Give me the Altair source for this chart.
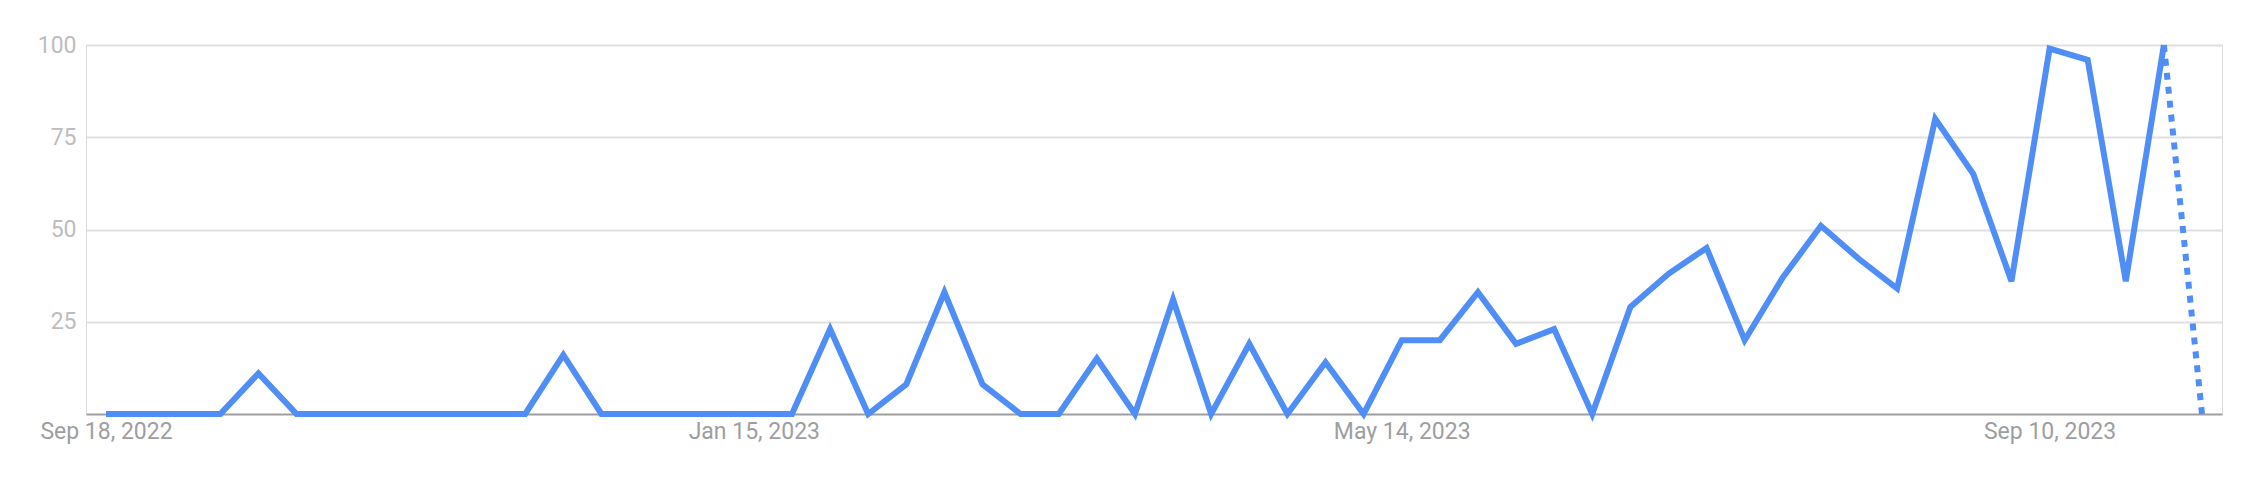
import altair as alt
import pandas as pd

# Weekly interest values (Sep 18, 2022 onward, 56 weeks)
start_date = "2022-09-18"
values = [0, 0, 0, 0, 11, 0, 0, 0, 0, 0, 0, 0,
          16, 0, 0, 0, 0, 0, 0, 23, 0, 8, 33, 8,
          0, 0, 15, 0, 31, 0, 19, 0, 14, 0, 20, 20,
          33, 19, 23, 0, 29, 38, 45, 20, 37, 51, 42, 34,
          80, 65, 36, 99, 96, 36, 100, 0]
dates = pd.date_range(start_date, periods=len(values), freq="7D").strftime("%Y-%m-%d").tolist()

y_ticks = [25, 50, 75, 100]
x_tick_dates = [(2022, 9, 18), (2023, 1, 15), (2023, 5, 14), (2023, 9, 10)]

df = pd.DataFrame({"date": dates, "value": values})
solid = df.iloc[:-1]
partial = df.iloc[-2:]

BLUE = "#4f8ef6"

x_enc = alt.X(
    "date:T",
    scale=alt.Scale(type="utc", padding=20, nice=False),
    axis=alt.Axis(
        title=None,
        values=[alt.DateTime(year=y, month=m, date=d, utc=True) for (y, m, d) in x_tick_dates],
        labelExpr="utcFormat(datum.value, '%b %-d, %Y')",
        grid=False,
        ticks=False,
        domain=True,
        domainColor="#9e9e9e",
        domainWidth=2,
        labelColor="#9e9e9e",
        labelFont="Roboto",
        labelFontSize=23,
        labelPadding=6,
        labelOverlap=False,
        labelFlush=False,
        labelLimit=400,
    ),
)
y_enc = alt.Y(
    "value:Q",
    scale=alt.Scale(domain=[0, 100], nice=False),
    axis=alt.Axis(
        title=None,
        values=y_ticks,
        grid=True,
        gridColor="#e0e0e0",
        gridWidth=2,
        domain=False,
        ticks=False,
        labelColor="#bdbdbd",
        labelFont="Roboto",
        labelFontSize=23,
        labelPadding=10,
    ),
)

line_solid = alt.Chart(solid).mark_line(
    color=BLUE, strokeWidth=6, strokeJoin="miter", strokeCap="butt"
).encode(x=x_enc, y=y_enc)

line_dotted = alt.Chart(partial).mark_line(
    color=BLUE, strokeWidth=6, strokeDash=[7, 7], strokeCap="butt"
).encode(x="date:T", y="value:Q")

chart = (
    alt.layer(line_solid, line_dotted)
    .properties(
        width=2136,
        height=369,
        autosize=alt.AutoSizeParams(type="none"),
        padding={"left": 78, "top": 37, "right": 20, "bottom": 60},
    )
    .configure_view(strokeWidth=0)
    .configure(background="white")
)

chart.save("out.html", embed_options={"renderer": "svg", "actions": False})
